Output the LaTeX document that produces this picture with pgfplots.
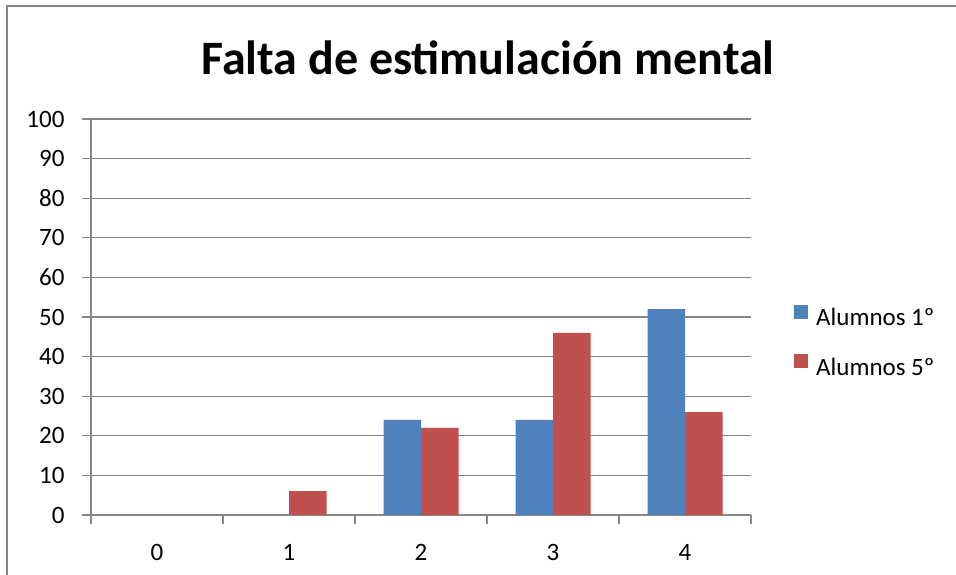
\documentclass[border=0pt]{standalone}
\usepackage{pgfplots}
\pgfplotsset{compat=1.18}
\usepackage{fontspec}
\setmainfont{Carlito}
\definecolor{barblue}{HTML}{4F81BD}
\definecolor{barred}{HTML}{C0504D}
\definecolor{axgray}{HTML}{868686}
\begin{document}
\begin{tikzpicture}
\useasboundingbox (0pt,0pt) rectangle (956pt,575pt);
\draw[axgray, line width=1.3pt] (7pt,0pt) -- (7pt,569pt) -- (956pt,569pt);
\node[anchor=base, font=\fontsize{48}{54}\selectfont\bfseries] at (488pt,500pt) {Falta de estimulación mental};
\begin{axis}[
  at={(91pt,60pt)}, anchor=south west,
  scale only axis, width=660pt, height=396pt,
  ybar=0pt, bar width=37.5pt,
  xmin=-0.5, xmax=4.5, ymin=0, ymax=100,
  xtick={-0.5,0.5,...,4.5},
  xticklabels={0,1,2,3,4},
  x tick label as interval=true,
  ytick={0,10,...,100},
  axis x line*=bottom, axis y line*=left,
  axis line style={-, draw=axgray, line width=1.3pt},
  tick style={draw=axgray, line width=1.3pt},
  major tick length=9pt,
  tick align=outside,
  ymajorgrids, grid style={draw=axgray, line width=1.3pt},
  tick label style={font=\fontsize{25}{30}\selectfont},
  yticklabel style={xshift=-14pt},
  xticklabel style={yshift=-17pt},
  /pgf/number format/assume math mode=true,
  legend style={draw=none, fill=none, at={(1,0.437)}, anchor=west, xshift=43pt,
    font=\fontsize{25}{30}\selectfont, row sep=25pt, inner sep=0pt,
    /tikz/every odd column/.append style={column sep=6pt}},
  legend cell align=left,
  legend image code/.code={\fill[#1] (0pt,-1pt) rectangle (14pt,13pt);},
]
\addplot[fill=barblue, draw=none] coordinates {(0,0) (1,0) (2,24) (3,24) (4,52)};
\addplot[fill=barred, draw=none] coordinates {(0,0) (1,6) (2,22) (3,46) (4,26)};
\legend{Alumnos 1º, Alumnos 5º}
\end{axis}
\end{tikzpicture}
\end{document}
